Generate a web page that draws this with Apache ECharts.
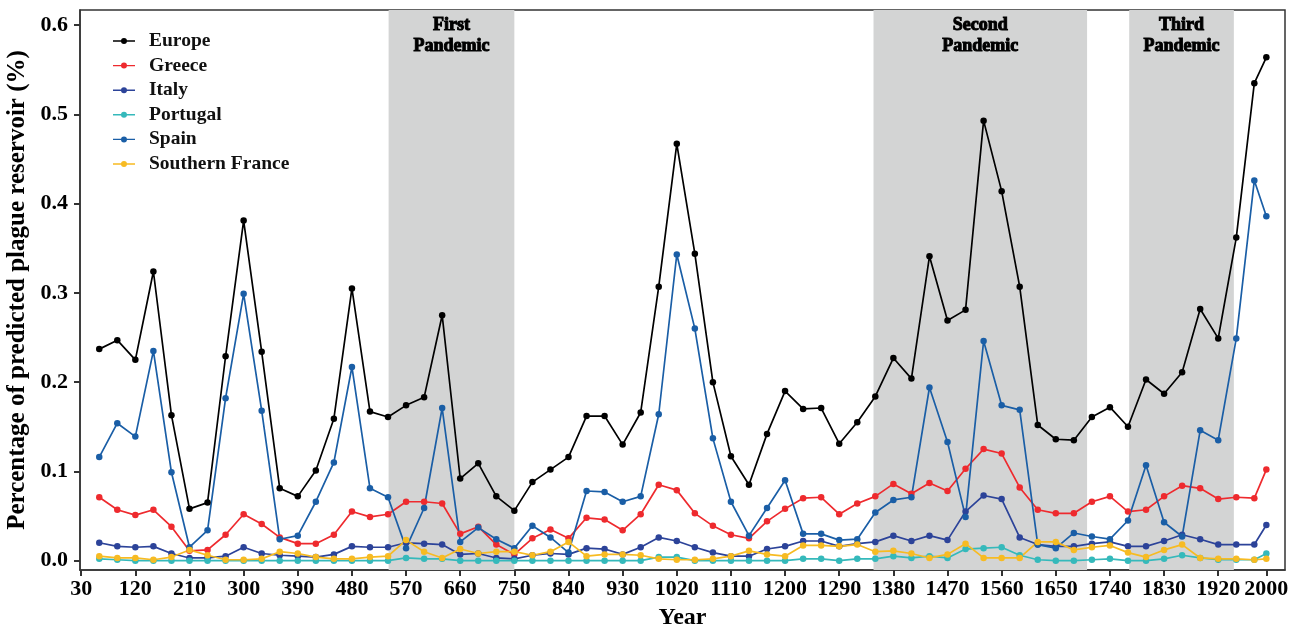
<!DOCTYPE html>
<html>
<head>
<meta charset="utf-8">
<script src="https://cdn.jsdelivr.net/npm/echarts@6/dist/echarts.min.js"></script>
<style>
html,body{margin:0;padding:0;background:#fff;}
#chart{width:1301px;height:632px;}
</style>
</head>
<body>
<div id="chart"></div>
<script>
const years = [60,90,120,150,180,210,240,270,300,330,360,
390,420,450,480,510,540,570,600,630,660,690,
720,750,780,810,840,870,900,930,960,990,1020,
1050,1080,1110,1140,1170,1200,1230,1260,1290,1320,1350,
1380,1410,1440,1470,1500,1530,1560,1590,1620,1650,1680,
1710,1740,1770,1800,1830,1860,1890,1920,1950,1980,2000];

const europe = [0.237,0.247,0.225,0.324,0.163,0.058,0.065,0.229,0.381,0.234,0.081,
0.072,0.101,0.159,0.305,0.167,0.161,0.174,0.183,0.275,0.092,0.109,
0.072,0.056,0.088,0.102,0.116,0.162,0.162,0.130,0.166,0.307,0.467,
0.344,0.200,0.117,0.085,0.142,0.190,0.170,0.171,0.131,0.155,0.184,
0.227,0.204,0.341,0.269,0.281,0.493,0.414,0.307,0.152,0.136,0.135,
0.161,0.172,0.150,0.203,0.187,0.211,0.282,0.249,0.362,0.535,0.564];

const greece = [0.071,0.057,0.051,0.057,0.038,0.011,0.012,0.029,0.052,0.041,0.026,
0.019,0.019,0.029,0.055,0.049,0.052,0.066,0.066,0.064,0.030,0.038,
0.018,0.007,0.025,0.035,0.025,0.048,0.046,0.034,0.052,0.085,0.079,
0.053,0.039,0.029,0.025,0.044,0.058,0.070,0.071,0.052,0.064,0.072,
0.086,0.075,0.087,0.078,0.103,0.125,0.120,0.082,0.057,0.053,0.053,
0.066,0.072,0.055,0.057,0.072,0.084,0.081,0.069,0.071,0.070,0.102];

const italy = [0.020,0.016,0.015,0.016,0.008,0.003,0.003,0.005,0.015,0.008,0.006,
0.005,0.004,0.007,0.016,0.015,0.015,0.020,0.019,0.018,0.007,0.008,
0.003,0.002,0.006,0.008,0.007,0.014,0.013,0.007,0.015,0.026,0.022,
0.015,0.009,0.005,0.005,0.013,0.016,0.022,0.022,0.016,0.019,0.021,
0.028,0.022,0.028,0.023,0.055,0.073,0.069,0.026,0.018,0.016,0.016,
0.019,0.021,0.016,0.016,0.022,0.029,0.024,0.018,0.018,0.018,0.040];

const portugal = [0.002,0.001,0,0,0,0,0,0,0,0,0,
0,0,0,0,0,0,0.003,0.002,0.002,0,0,
0,0,0,0,0,0,0,0,0,0.004,0.004,
0,0,0,0,0,0,0.002,0.002,0,0.002,0.002,
0.005,0.003,0.005,0.003,0.013,0.014,0.015,0.006,0.001,0,0,
0.001,0.002,0,0,0.002,0.006,0.003,0.001,0.001,0.001,0.008];

const spain = [0.116,0.154,0.139,0.235,0.099,0.015,0.034,0.182,0.299,0.168,0.024,
0.028,0.066,0.110,0.217,0.081,0.071,0.014,0.059,0.171,0.021,0.037,
0.024,0.014,0.039,0.026,0.009,0.078,0.077,0.066,0.072,0.164,0.343,
0.260,0.137,0.066,0.028,0.059,0.090,0.030,0.030,0.023,0.024,0.054,
0.068,0.071,0.194,0.133,0.049,0.246,0.174,0.169,0.018,0.014,0.031,
0.027,0.024,0.045,0.107,0.043,0.027,0.146,0.135,0.249,0.426,0.386];

const southernFrance = [0.005,0.003,0.003,0.001,0.004,0.012,0.006,0.001,0.001,0.002,0.010,
0.008,0.004,0.002,0.002,0.004,0.005,0.023,0.010,0.003,0.013,0.008,
0.010,0.010,0.006,0.010,0.021,0.005,0.007,0.007,0.006,0.002,0.001,
0.001,0.002,0.005,0.011,0.007,0.005,0.017,0.017,0.016,0.018,0.010,
0.011,0.008,0.003,0.007,0.019,0.003,0.003,0.003,0.021,0.021,0.012,
0.015,0.017,0.009,0.004,0.012,0.018,0.003,0.002,0.002,0.001,0.002];

const seriesNames = ['Europe','Greece','Italy','Portugal','Spain','Southern France'];
const seriesColors = ['#000000','#ee2a2e','#2c4399','#35b9bb','#1a5ea6','#f7bb22'];
const xTicks = [30,120,210,300,390,480,570,660,750,840,930,1020,1110,1200,1290,1380,1470,1560,1650,1740,1830,1920,2000];
const yTicks = [0,0.1,0.2,0.3,0.4,0.5,0.6];
const pandemics = [
  {name:'First\nPandemic', from:541, to:750},
  {name:'Second\nPandemic', from:1347, to:1702},
  {name:'Third\nPandemic', from:1772, to:1946}
];

const seriesData = [europe, greece, italy, portugal, spain, southernFrance];
const FONT = '"Liberation Serif", "DejaVu Serif", serif';

const chart = echarts.init(document.getElementById('chart'), null, {renderer:'canvas'});

const series = seriesNames.map((n,i)=>({
  name:n, type:'line', z:3,
  data: years.map((y,k)=>[y, seriesData[i][k]]),
  symbol:'circle', symbolSize:6.5, showSymbol:true,
  lineStyle:{width:1.7, color:seriesColors[i]},
  itemStyle:{color:seriesColors[i]},
  emphasis:{disabled:true},
  animation:false
}));

series.unshift({
  name:'_shade', type:'line', data:[], z:1, silent:true,
  markArea:{
    silent:true,
    itemStyle:{color:'#d3d4d4'},
    label:{show:true, position:'insideTop', distance:5, color:'#000', fontFamily:FONT,
      fontWeight:'bold', fontSize:18, lineHeight:21, textBorderColor:'#000', textBorderWidth:1, align:'center'},
    data: pandemics.map(p=>[{name:p.name, xAxis:p.from},{xAxis:p.to}])
  }
});

chart.setOption({
  animation:false,
  backgroundColor:'#fff',
  grid:{left:80, right:16, top:10, bottom:62, outerBoundsMode:'none', containLabel:false,
    show:true, borderColor:'#333', borderWidth:1.5, backgroundColor:'transparent'},
  legend:{
    data:seriesNames, orient:'vertical', left:108, top:26,
    itemWidth:22, itemHeight:10, itemGap:4.6,
    icon:'path://M0,4.3H22V5.7H0Z M11,2A3,3 0 1,1 10.99,2Z',
    textStyle:{fontFamily:FONT, fontWeight:'bold', fontSize:19.5, color:'#111', padding:[0,0,0,9], lineHeight:20}
  },
  xAxis:{
    type:'value', min:28, max:2031,
    name:'Year', nameLocation:'middle', nameGap:36,
    nameTextStyle:{fontFamily:FONT, fontWeight:'bold', fontSize:24, color:'#000'},
    axisLine:{show:true, onZero:false, lineStyle:{color:'#333', width:1.5}},
    axisTick:{show:true, customValues:xTicks, length:6, lineStyle:{color:'#333', width:2}},
    axisLabel:{customValues:xTicks, fontFamily:FONT, fontWeight:'bold', fontSize:22, color:'#000', margin:8,
      formatter:v=>String(v)},
    splitLine:{show:false}
  },
  yAxis:{
    type:'value', min:-0.0105, max:0.617,
    name:'Percentage of predicted plague reservoir (%)', nameLocation:'middle', nameGap:49,
    nameTextStyle:{fontFamily:FONT, fontWeight:'bold', fontSize:25, color:'#000'},
    axisLine:{show:true, onZero:false, lineStyle:{color:'#333', width:1.5}},
    axisTick:{show:true, customValues:yTicks, length:6, lineStyle:{color:'#333', width:2}},
    axisLabel:{customValues:yTicks, fontFamily:FONT, fontWeight:'bold', fontSize:22, color:'#000', margin:12,
      formatter:v=>v.toFixed(1)},
    splitLine:{show:false}
  },
  series:series
});
</script>
</body>
</html>
